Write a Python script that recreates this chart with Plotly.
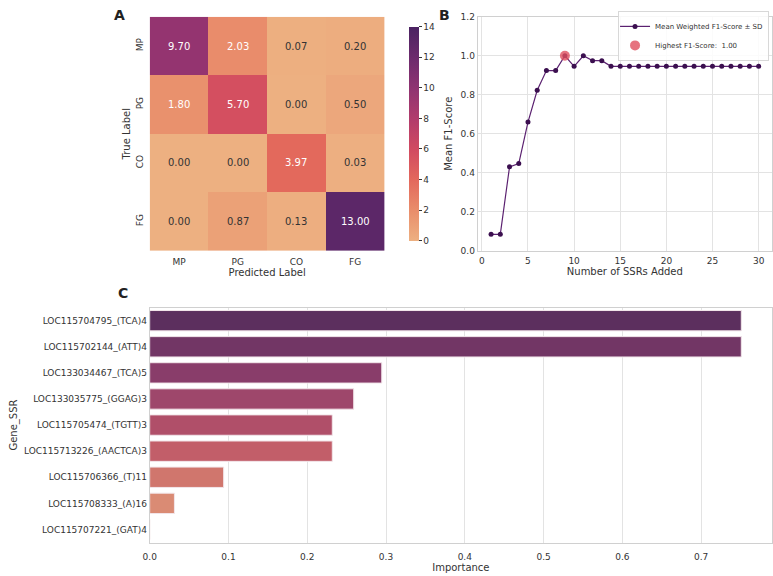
import plotly.graph_objects as go

# ---- Data ----
cm_labels = ["MP", "PG", "CO", "FG"]
cm_values = [
    [9.70, 2.03, 0.07, 0.20],
    [1.80, 5.70, 0.00, 0.50],
    [0.00, 0.00, 3.97, 0.03],
    [0.00, 0.87, 0.13, 13.00],
]

n_ssrs = list(range(1, 31))
f1_scores = [0.084, 0.084, 0.430, 0.447, 0.660, 0.823, 0.924, 0.924, 1.000, 0.946,
             1.000, 0.975, 0.975] + [0.946] * 17
best_n = 9
best_f1 = 1.00

genes = ["LOC115704795_(TCA)4", "LOC115702144_(ATT)4", "LOC133034467_(TCA)5",
         "LOC133035775_(GGAG)3", "LOC115705474_(TGTT)3", "LOC115713226_(AACTCA)3",
         "LOC115706366_(T)11", "LOC115708333_(A)16", "LOC115707221_(GAT)4"]
importance = [0.751, 0.751, 0.2946, 0.259, 0.2318, 0.2318, 0.0939, 0.0314, 0.0]

# ---- Styles ----
FONT = "DejaVu Sans"
TXT = "#333333"
GRID = "#e3e3e3"
SPINE = "#d0d0d0"
flare = [[0.0, "#edb081"], [1/7, "#e98d6b"], [2/7, "#e3685c"], [3/7, "#d14a61"],
         [4/7, "#b13c6c"], [5/7, "#8f3371"], [6/7, "#6c2b6d"], [1.0, "#4b2362"]]
bar_colors = ["#5c2f5e", "#723665", "#893d6a", "#9e476b", "#b04f69",
              "#c25e69", "#d0766d", "#da8b74", "#e39d7c"]

W, H = 773, 576
def px(x): return x / W
def py(y): return 1 - y / H

fig = go.Figure()

# Heatmap (A)
fig.add_trace(go.Heatmap(
    z=cm_values, x=cm_labels, y=cm_labels, colorscale=flare, zmin=0, zmax=14,
    xaxis="x", yaxis="y", xgap=0, ygap=0, hoverinfo="skip", showlegend=False,
    colorbar=dict(x=px(396), xanchor="left", y=py(250), yanchor="bottom",
                  len=(250 - 12) / H, lenmode="fraction", thickness=10,
                  outlinewidth=0, tickvals=list(range(0, 15, 2)),
                  ticks="outside", ticklen=3, tickcolor=TXT,
                  tickfont=dict(family=FONT, size=9, color=TXT)),
))
annotations = []
for i, row in enumerate(cm_values):
    for j, v in enumerate(row):
        annotations.append(dict(
            x=cm_labels[j], y=cm_labels[i], xref="x", yref="y", text=f"{v:.2f}",
            showarrow=False, font=dict(family=FONT, size=10,
                                       color="#ffffff" if v > 1.5 else "#333333")))

# Line chart (B)
fig.add_trace(go.Scatter(
    x=n_ssrs, y=f1_scores, mode="lines+markers", name="Mean Weighted F1-Score ± SD",
    line=dict(color="#5b2170", width=1.2),
    marker=dict(color="#3b0f4f", size=5), xaxis="x2", yaxis="y2"))
fig.add_trace(go.Scatter(
    x=[best_n], y=[best_f1], mode="markers", name=f"Highest F1-Score:  {best_f1:.2f}",
    marker=dict(color="#e0505f", size=10, opacity=0.8), xaxis="x2", yaxis="y2"))

# Bar chart (C)
fig.add_trace(go.Bar(
    x=importance, y=genes, orientation="h", marker=dict(color=bar_colors,
    line=dict(color="#f2e6ea", width=1)), xaxis="x3", yaxis="y3", showlegend=False))

tickfont = dict(family=FONT, size=9, color=TXT)
titlefont = dict(family=FONT, size=10, color=TXT)

frame = dict(showline=True, linecolor=SPINE, linewidth=1, mirror=True)

fig.update_layout(
    width=W, height=H, margin=dict(l=0, r=0, t=0, b=0),
    paper_bgcolor="white", plot_bgcolor="white",
    font=dict(family=FONT, color=TXT),
    xaxis=dict(domain=[px(144), px(381)], anchor="y", tickfont=tickfont,
               ticklabelstandoff=4,
               title=dict(text="Predicted Label", font=titlefont, standoff=2),
               showgrid=False, zeroline=False, ticks="", showline=False),
    yaxis=dict(domain=[py(250), py(12)], anchor="x", tickfont=tickfont, autorange="reversed",
               tickangle=-90, ticklabelstandoff=4,
               title=dict(text="True Label", font=titlefont, standoff=2),
               showgrid=False, zeroline=False, ticks="", showline=False),
    xaxis2=dict(domain=[px(475), px(772)], anchor="y2", range=[-0.45, 31.45],
                tickvals=[0, 5, 10, 15, 20, 25, 30], tickfont=tickfont,
                ticklabelstandoff=2,
                title=dict(text="Number of SSRs Added", font=titlefont, standoff=2),
                showgrid=True, gridcolor=GRID, zeroline=False, **frame),
    yaxis2=dict(domain=[py(250), py(12)], anchor="x2", range=[0, 1.2], dtick=0.2,
                tickformat=".1f", tickfont=tickfont,
                title=dict(text="Mean F1-Score", font=titlefont, standoff=6),
                showgrid=True, gridcolor=GRID, zeroline=False, **frame),
    xaxis3=dict(domain=[px(144), px(772)], anchor="y3", range=[0, 0.79], dtick=0.1,
                tickformat=".1f", tickfont=tickfont, ticklabelstandoff=6,
                title=dict(text="Importance", font=titlefont, standoff=2),
                showgrid=True, gridcolor=GRID, zeroline=False, **frame),
    yaxis3=dict(domain=[py(547), py(308)], anchor="x3", autorange="reversed",
                tickfont=tickfont, title=dict(text="Gene_SSR", font=titlefont, standoff=4),
                showgrid=False, zeroline=False, ticks="", **frame),
    bargap=0.22,
    legend=dict(x=px(769), xanchor="right", y=py(6), yanchor="top",
                bgcolor="rgba(255,255,255,0.85)", bordercolor="#d8d8d8", borderwidth=1,
                font=dict(family=FONT, size=7, color=TXT), itemsizing="trace",
                itemwidth=30, tracegroupgap=0, indentation=-4),
    annotations=annotations + [
        dict(text="<b>A</b>", x=px(114), y=py(0), xref="paper", yref="paper",
             showarrow=False, xanchor="center", yanchor="top", font=dict(family=FONT, size=14, color="#222")),
        dict(text="<b>B</b>", x=px(441), y=py(0), xref="paper", yref="paper",
             showarrow=False, xanchor="center", yanchor="top", font=dict(family=FONT, size=14, color="#222")),
        dict(text="<b>C</b>", x=px(117), y=py(283), xref="paper", yref="paper",
             showarrow=False, xanchor="center", yanchor="top", font=dict(family=FONT, size=14, color="#222")),
    ],
)

fig.write_html("out.html")
